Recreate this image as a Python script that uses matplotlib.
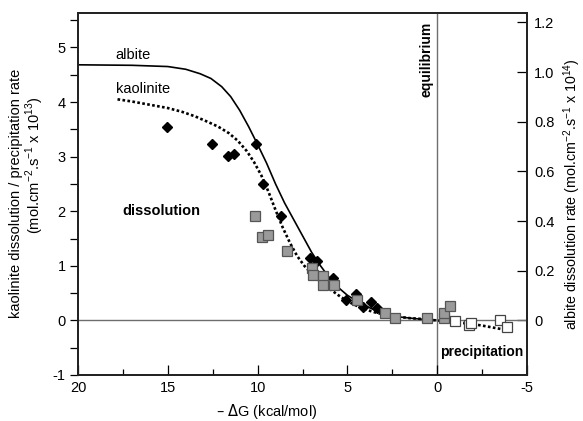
import numpy as np
import matplotlib
matplotlib.use('Agg')
import matplotlib.pyplot as plt
from matplotlib.ticker import MultipleLocator, FixedLocator, FixedFormatter

plt.rcParams['font.family'] = ['Liberation Sans', 'DejaVu Sans']
plt.rcParams['axes.unicode_minus'] = False

#%% data
# -dG (kcal/mol) ; kaolinite in 1e-13 mol/cm2/s ; albite in 1e-14 mol/cm2/s
alb_x = [15.05, 12.55, 11.65, 11.3, 10.1, 9.7, 8.7, 7.1, 6.7, 5.8, 5.1, 4.5, 4.15, 3.7, 3.35, 2.9]
alb_y = [0.78, 0.71, 0.66, 0.67, 0.71, 0.55, 0.42, 0.25, 0.24, 0.17, 0.084, 0.106, 0.055, 0.073, 0.048, 0.031]

kao_x = [10.15, 9.75, 9.4, 8.35, 6.95, 6.9, 6.35, 6.35, 5.75, 4.45, 2.9, 2.35, 0.55, -0.4, -0.4, -0.7]
kao_y = [1.91, 1.52, 1.56, 1.28, 0.96, 0.84, 0.81, 0.64, 0.65, 0.37, 0.14, 0.05, 0.05, 0.04, 0.14, 0.27]

prc_x = [-1.0, -1.75, -1.9, -3.5, -3.9]
prc_y = [-0.01, -0.08, -0.04, 0.01, -0.12]

# model curves
alb_fit_x = [20, 17, 15, 14, 13.2, 12.6, 12.0, 11.5, 11.0, 10.5, 10.0, 9.5, 9.0, 8.5, 8.0, 7.5,
             7.0, 6.5, 6.0, 5.5, 5.0, 4.5, 4.0, 3.5, 3.0, 2.0, 1.0, 0.0]
alb_fit_y = [1.029, 1.027, 1.022, 1.011, 0.993, 0.974, 0.941, 0.901, 0.846, 0.780, 0.708, 0.633, 0.549,
             0.473, 0.407, 0.341, 0.275, 0.220, 0.171, 0.132, 0.101, 0.079, 0.059, 0.042, 0.026, 0.013,
             0.0055, 0.0]

kao_fit_x = [17.8, 17, 16, 15, 14.2, 13.5, 12.8, 12.2, 11.6, 11.1, 10.6, 10.2, 9.8, 9.4, 9.0, 8.6,
             8.2, 7.8, 7.4, 7.0, 6.5, 6.0, 5.5, 5.0, 4.5, 4.0, 3.5, 3.0, 2.5, 2.0, 1.5, 1.0, 0.5,
             0.0, -0.5, -1.0, -1.5, -2.0, -2.5, -3.0, -3.5, -4.0, -4.2]
kao_fit_y = [4.05, 4.01, 3.95, 3.89, 3.82, 3.74, 3.64, 3.55, 3.43, 3.29, 3.10, 2.90, 2.66, 2.36, 2.02,
             1.70, 1.42, 1.18, 1.00, 0.86, 0.72, 0.58, 0.46, 0.35, 0.27, 0.20, 0.15, 0.11, 0.08, 0.06,
             0.04, 0.03, 0.01, 0.0, -0.02, -0.035, -0.05, -0.07, -0.095, -0.125, -0.155, -0.19, -0.20]

xticks = [20, 15, 10, 5, 0, -5]
rticks = [0, 0.2, 0.4, 0.6, 0.8, 1.0, 1.2]
rtick_labels = ['0', '0.2', '0.4', '0.6', '0.8', '1.0', '1.2']

#%%
fig = plt.figure(figsize=(5.83, 4.21), dpi=100)
ax = fig.add_axes([0.1338, 0.1093, 0.7702, 0.8597])
ax2 = ax.twinx()

ylim = (-1, 5.63)
scale = 4.55
ax.set_xlim(20, -5)
ax.set_ylim(*ylim)
ax2.set_ylim(ylim[0] / scale, ylim[1] / scale)

ax.axhline(0, color='#6e6e6e', linewidth=1.0, zorder=1)
ax.axvline(0, color='#6e6e6e', linewidth=1.0, zorder=1)

ax2.plot(alb_fit_x, alb_fit_y, color='black', linewidth=1.2, zorder=2)
ax2.plot(alb_x, alb_y, linestyle='none', marker='D', ms=5.6, color='black', zorder=3)

ax.plot(kao_fit_x, kao_fit_y, color='black', linewidth=1.9, linestyle=(0, (1, 0.9)), zorder=2)
ax.plot(kao_x, kao_y, linestyle='none', marker='s', ms=7.4, markerfacecolor='#9a9a9a',
        markeredgecolor='#555555', markeredgewidth=0.9, zorder=4)
ax.plot(prc_x, prc_y, linestyle='none', marker='s', ms=7.4, markerfacecolor='white',
        markeredgecolor='#444444', markeredgewidth=0.9, zorder=4)

# left axis above right one so the squares sit on the diamonds
ax.set_zorder(ax2.get_zorder() + 1)
ax.patch.set_visible(False)

ax.text(17.9, 4.86, 'albite', fontsize=10.5, va='center', ha='left')
ax.text(17.9, 4.24, 'kaolinite', fontsize=10.5, va='center', ha='left')
ax.text(17.55, 2.0, 'dissolution', fontsize=10.5, fontweight='bold', va='center', ha='left')
ax.text(0.62, 5.47, 'equilibrium', fontsize=10, fontweight='bold', rotation=90, va='top', ha='center')
ax.text(-4.8, -0.57, 'precipitation', fontsize=10, fontweight='bold', va='center', ha='right')

ax.xaxis.set_major_locator(FixedLocator(xticks))
ax.xaxis.set_minor_locator(MultipleLocator(2.5))
ax.yaxis.set_major_locator(MultipleLocator(1))
ax.yaxis.set_minor_locator(MultipleLocator(0.5))
ax.tick_params(axis='x', which='major', direction='in', length=7, width=0.9, labelsize=10.5, pad=4)
ax.tick_params(axis='x', which='minor', direction='in', length=4, width=0.9)
ax.tick_params(axis='y', which='major', direction='out', length=6, width=0.9, labelsize=10.5, pad=3)
ax.tick_params(axis='y', which='minor', direction='out', length=6, width=0.9)

ax2.yaxis.set_major_locator(FixedLocator(rticks))
ax2.yaxis.set_major_formatter(FixedFormatter(rtick_labels))
ax2.tick_params(axis='y', direction='in', length=7, width=0.9, labelsize=10.5, pad=5)

for a in (ax, ax2):
    for s in a.spines.values():
        s.set_linewidth(1.3)
        s.set_color('#222222')

ax.set_xlabel(r'– $\Delta$G (kcal/mol)', fontsize=10.5, labelpad=4)
ax.xaxis.set_label_coords(0.42, -0.075)
fig.text(0.028, 0.541, 'kaolinite dissolution / precipitation rate', rotation=90,
         fontsize=10.5, va='center', ha='center')
fig.text(0.059, 0.608, r'(mol.cm$^{\mathregular{-2}}$.s$^{\mathregular{-1}}$ x 10$^{\mathregular{13}}$)',
         rotation=90, fontsize=10.5, va='center', ha='center')
fig.text(0.981, 0.54,
         r'albite dissolution rate (mol.cm$^{\mathregular{-2}}$.s$^{\mathregular{-1}}$ x 10$^{\mathregular{14}}$)',
         rotation=90, fontsize=10.3, va='center', ha='center')

plt.savefig('out.png', dpi=100)
